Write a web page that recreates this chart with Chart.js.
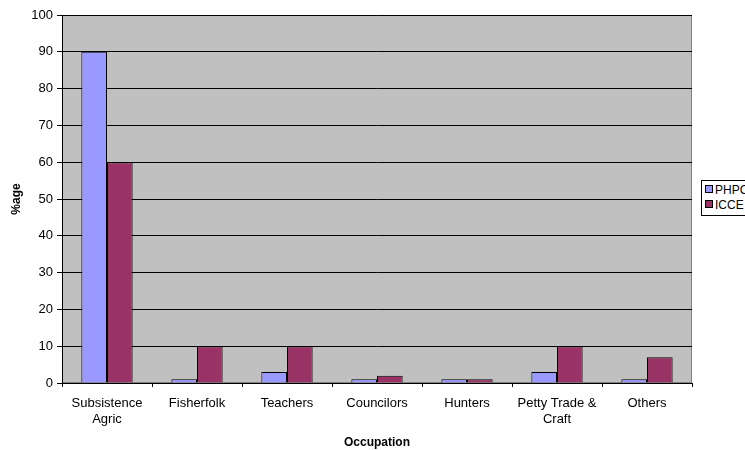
<!DOCTYPE html>
<html>
<head>
<meta charset="utf-8">
<script src="https://cdn.jsdelivr.net/npm/chart.js@4.4.1/dist/chart.umd.min.js"></script>
<style>
  html, body { margin: 0; padding: 0; background: #fff; overflow: hidden; }
  #wrap { position: relative; width: 745px; height: 450px; }
  #legend {
    position: absolute; left: 701px; top: 180px; width: 60px;
    border: 1px solid #000; background: #fff;
    font: 12px "Liberation Sans", Arial, sans-serif; padding: 2px 0 2px 3px;
  }
  #legend div { height: 15px; line-height: 15px; white-space: nowrap; }
  #legend span { display: inline-block; width: 6px; height: 6px; border: 1px solid #000; margin-right: 2px; vertical-align: 1px; }
</style>
</head>
<body>
<div id="wrap">
  <canvas id="chart" width="745" height="450"></canvas>
  <div id="legend"></div>
</div>
<script>
const categories = [["Subsistence", "Agric"], "Fisherfolk", "Teachers", "Councilors", "Hunters", ["Petty Trade &", "Craft"], "Others"];
const phpc = [90, 1, 3, 1, 1, 3, 1];
const icce = [60, 10, 10, 2, 1, 10, 7];
const seriesNames = ["PHPC", "ICCE"];
const seriesColors = ["#9999FF", "#993366"];

const plotBg = {
  id: "plotBg",
  beforeDraw(chart) {
    const { ctx, chartArea: a } = chart;
    ctx.save();
    ctx.fillStyle = "#C0C0C0";
    ctx.fillRect(a.left, a.top, a.right - a.left, a.bottom - a.top);
    ctx.strokeStyle = "#808080";
    ctx.lineWidth = 1;
    ctx.strokeRect(a.left + 0.5, a.top + 0.5, a.right - a.left - 1, a.bottom - a.top - 1);
    ctx.restore();
  }
};

const font = { family: "'Liberation Sans', Arial, sans-serif", size: 13 };
const titleFont = { family: "'Liberation Sans', Arial, sans-serif", size: 12, weight: "bold" };

new Chart(document.getElementById("chart"), {
  type: "bar",
  data: {
    labels: categories,
    datasets: [
      { label: seriesNames[0], data: phpc, backgroundColor: seriesColors[0], borderColor: "#000", borderWidth: 1 },
      { label: seriesNames[1], data: icce, backgroundColor: seriesColors[1], borderColor: "#000", borderWidth: 1 }
    ]
  },
  options: {
    responsive: false,
    animation: false,
    layout: { padding: { left: 0, right: 53, top: 15, bottom: 0 } },
    datasets: { bar: { categoryPercentage: 0.57, barPercentage: 1 } },
    plugins: { legend: { display: false }, tooltip: { enabled: false } },
    scales: {
      x: {
        afterFit(scale) { scale.height = 67; },
        grid: { offset: true, drawOnChartArea: false, color: "#000", tickLength: 4 },
        border: { color: "#000" },
        ticks: { color: "#000", font, maxRotation: 0, autoSkip: false, padding: 9 },
        title: { display: true, text: "Occupation", color: "#000", font: titleFont, padding: { top: 0, bottom: 0 } }
      },
      y: {
        min: 0, max: 100,
        afterFit(scale) { scale.width = 62; },
        grid: { color: "#000", tickLength: 5 },
        border: { color: "#000" },
        ticks: { stepSize: 10, color: "#000", font, padding: 4 },
        title: { display: true, text: "%age", color: "#000", font: titleFont, padding: { top: 9, bottom: 0 } }
      }
    }
  },
  plugins: [plotBg]
});

document.getElementById("legend").innerHTML = seriesNames.map((n, i) =>
  `<div><span style="background:${seriesColors[i]}"></span>${n}</div>`).join("");
</script>
</body>
</html>
